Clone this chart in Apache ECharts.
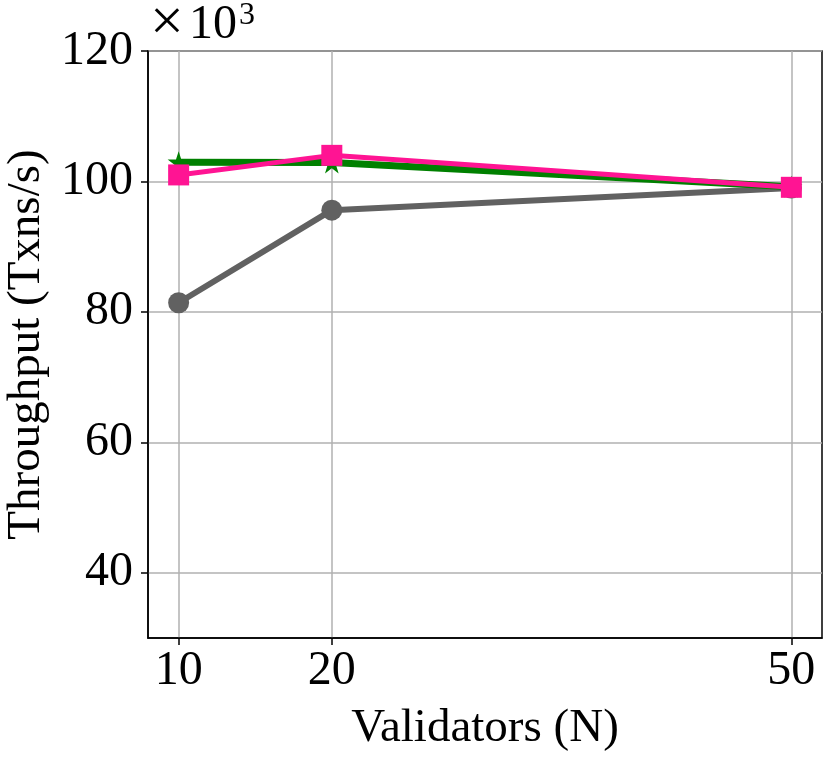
<!DOCTYPE html>
<html><head><meta charset="utf-8">
<script src="https://cdn.jsdelivr.net/npm/echarts@6/dist/echarts.min.js"></script>
<style>html,body{margin:0;padding:0;background:#fff}#c{width:830px;height:761px}</style>
</head><body><div id="c"></div>
<script>
const validators = [10, 20, 50];
const xTicks = [10, 20, 50];
const yTicks = [40, 60, 80, 100, 120];
const grayValues = [81.4, 95.6, 99.0];
const greenValues = [102.95, 102.9, 99.2];
const pinkValues = [101.0, 104.0, 99.1];

const FONT = '"Liberation Serif", "DejaVu Serif", serif';
const star = 'path://M50,0 L61.8,35.3 L98.9,35.3 L68.8,57.1 L80.3,92.7 L50,70.8 L19.7,92.7 L31.2,57.1 L1.1,35.3 L38.2,35.3 Z';
const pts = v => validators.map((x, i) => [x, v[i]]);

const chart = echarts.init(document.getElementById('c'));
chart.setOption({
  animation: false,
  grid: {left: 148, right: 8, top: 51, bottom: 123, containLabel: false, outerBoundsMode: 'none',
         show: true, borderColor: '#000', borderWidth: 1.5, backgroundColor: 'transparent'},
  xAxis: {
    type: 'value', min: 8, max: 52,
    name: 'Validators (N)', nameLocation: 'middle', nameGap: 67,
    nameTextStyle: {fontFamily: FONT, fontSize: 47, color: '#000'},
    axisLine: {show: true, lineStyle: {color: '#000', width: 1.5}},
    axisTick: {show: true, customValues: xTicks, length: 7, lineStyle: {color: '#000', width: 1.5}},
    axisLabel: {customValues: xTicks, fontFamily: FONT, fontSize: 48, color: '#000', margin: 9},
    splitLine: {show: true, lineStyle: {color: '#b0b0b0', width: 1.5}}
  },
  yAxis: {
    type: 'value', min: 30, max: 120,
    name: 'Throughput (Txns/s)', nameLocation: 'middle', nameGap: 93, nameRotate: 90,
    nameTextStyle: {fontFamily: FONT, fontSize: 47, color: '#000'},
    axisLine: {show: true, lineStyle: {color: '#000', width: 1.5}},
    axisTick: {show: true, customValues: yTicks, length: 7, lineStyle: {color: '#000', width: 1.5}},
    axisLabel: {customValues: yTicks, fontFamily: FONT, fontSize: 48, color: '#000', margin: 15},
    splitLine: {show: true, lineStyle: {color: '#b0b0b0', width: 1.5}}
  },
  graphic: [{
    type: 'text', left: 150, top: -6,
    style: {text: '×', fontFamily: FONT, fontSize: 60, fill: '#000'}
  }, {
    type: 'text', left: 189, top: 1,
    style: {text: '10', fontFamily: FONT, fontSize: 48, fill: '#000'}
  }, {
    type: 'text', left: 239, top: 0,
    style: {text: '3', fontFamily: FONT, fontSize: 32, fill: '#000'}
  }],
  series: [
    {type: 'line', data: pts(grayValues), symbol: 'circle', symbolSize: 21,
     lineStyle: {color: '#616161', width: 6}, itemStyle: {color: '#616161'}, z: 2},
    {type: 'line', data: pts(greenValues), symbol: star, symbolSize: 22,
     lineStyle: {color: '#008000', width: 7}, itemStyle: {color: '#008000'}, z: 3},
    {type: 'line', data: pts(pinkValues), symbol: 'rect', symbolSize: 21,
     lineStyle: {color: '#ff1493', width: 5}, itemStyle: {color: '#ff1493'}, z: 4}
  ]
});
</script></body></html>
